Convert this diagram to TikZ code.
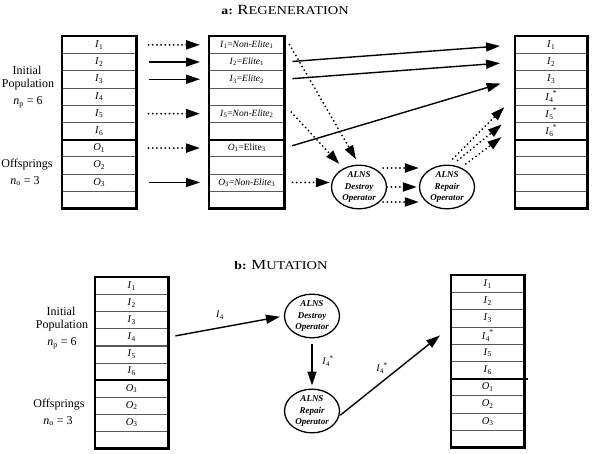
\documentclass[tikz,border=0pt]{standalone}
\usepackage{fontspec}
\setmainfont{Liberation Serif}
\usetikzlibrary{arrows.meta,shapes.geometric}
\newcommand\vI[1]{\textit{I}\textsubscript{#1}}
\newcommand\vIs[1]{\textit{I}\textsubscript{#1}\kern-0.5pt\raisebox{1pt}{\textsuperscript{*}}}
\newcommand\vO[1]{\textit{O}\textsubscript{#1}}
\begin{document}
\begin{tikzpicture}[x=1pt,y=-1pt,
  cell/.style={draw=black!65, line width=0.5pt, minimum width=#1, minimum height=17.2pt,
    inner sep=0pt, anchor=north west, font=\fontsize{10.5}{11}\selectfont},
  cell/.default=74pt,
  mcell/.style={cell=75pt, font=\fontsize{9.5}{10}\selectfont},
  frame/.style={line width=2.4pt},
  ell/.style={ellipse, draw, line width=1.3pt, minimum width=55pt, minimum height=43pt,
    inner sep=0pt, align=center, font=\fontsize{9}{11.5}\selectfont\bfseries\itshape},
  sarr/.style={line width=1.4pt, -{Triangle[length=14pt,width=9pt]}},
  darr/.style={line width=2pt, line cap=round, dash pattern=on 0pt off 4.2pt,
    -{Triangle[length=14pt,width=9pt]}},
  lab/.style={font=\fontsize{12}{13}\selectfont, inner sep=0pt},
  elab/.style={font=\fontsize{10}{11}\selectfont, inner sep=0pt},
  ttl/.style={inner sep=0pt}]
\useasboundingbox (0,0) rectangle (592,453);

% ---------- a: Regeneration ----------
\node[ttl] (ta) at (285,10) {\scalebox{1.2}[1]{\fontsize{11.5}{12}\selectfont\textbf{a:} \fontsize{14}{14}\selectfont R\fontsize{12}{12}\selectfont EGENERATION}};

\foreach \t [count=\i] in {{\vI{1}},{\vI{2}},{\vI{3}},{\vI{4}},{\vI{5}},{\vI{6}},{\vO{1}},{\vO{2}},{\vO{3}},{}}
  \node[cell] (L\i) at (62,{36+(\i-1)*17.2}) {\t};
\draw[frame] (L1.north west) rectangle (L10.south east);
\draw[frame] (L6.south west) -- (L6.south east);

\foreach \t [count=\i] in {{\vI{1}=\textit{Non-Elite}\textsubscript{1}},{\vI{2}=\textit{Elite}\textsubscript{1}},{\vI{3}=\textit{Elite}\textsubscript{2}},{},{\vI{5}=\textit{Non-Elite}\textsubscript{2}},{},{\vO{1}=Elite\textsubscript{3}},{},{\vO{3}=\textit{Non-Elite}\textsubscript{3}},{}}
  \node[mcell] (M\i) at (209,{36+(\i-1)*17.2}) {\t};
\draw[frame] (M1.north west) rectangle (M10.south east);
\draw[frame] (M6.south west) -- (M6.south east);

\foreach \t [count=\i] in {{\vI{1}},{\vI{2}},{\vI{3}},{\vIs{4}},{\vIs{5}},{\vIs{6}},{},{},{},{}}
  \node[cell=72pt] (R\i) at (515,{36+(\i-1)*17.2}) {\t};
\draw[frame] (R1.north west) rectangle (R10.south east);
\draw[frame] (R6.south west) -- (R6.south east);

\node[lab] (ip) at (27,70) {Initial};
\node[lab] (pp) at (28,85) {Population};
\node[lab] (np) at (28,102) {\textit{n}\textsubscript{p} = 6};
\node[lab] (of) at (27,165) {Offsprings};
\node[lab] (no) at (25,181) {\textit{n}\textsubscript{o} = 3};

\node[ell] (D) at (359,187) {ALNS\\Destroy\\Operator};
\node[ell] (RP) at (447,187) {ALNS\\Repair\\Operator};

% left -> middle
\draw[darr, shorten <=12pt, shorten >=9pt] (L1.east) -- (M1.west);
\draw[sarr, shorten <=12pt, shorten >=9pt] (L2.east) -- (M2.west);
\draw[sarr, shorten <=12pt, shorten >=9pt] (L3.east) -- (M3.west);
\draw[darr, shorten <=12pt, shorten >=9pt] (L5.east) -- (M5.west);
\draw[darr, shorten <=12pt, shorten >=9pt] (L7.east) -- (M7.west);
\draw[sarr, shorten <=12pt, shorten >=9pt] (L9.east) -- (M9.west);

% middle -> right
\draw[sarr, shorten <=8pt, shorten >=15pt] (M2.east) -- (R1.west);
\draw[sarr, shorten <=8pt, shorten >=15pt] (M3.east) -- (R2.west);
\draw[sarr, shorten <=8pt, shorten >=15pt] (M7.east) -- (R3.west);

% middle -> destroy
\draw[darr, shorten <=10pt, shorten >=6pt] (M1.north east) -- (D.north);
\draw[darr, shorten <=10pt, shorten >=6pt] (M5.north east) -- (D.130);
\draw[darr, shorten <=8pt, shorten >=1pt] (M9.east) -- (M9.east -| D.west);

% destroy -> repair
\draw[darr, shorten <=-4pt] ([yshift=19pt]D.east) -- ([yshift=19pt]RP.west);
\draw[darr, shorten >=2pt] (D.east) -- (RP.west);
\draw[darr, shorten <=-4pt] ([yshift=-15pt]D.east) -- ([yshift=-15pt]RP.west);

% repair -> right
\draw[darr, shorten <=8pt, shorten >=15pt] (RP.north) -- (R4.west);
\draw[darr, shorten <=7pt, shorten >=17pt] (RP.77) -- (R5.west);
\draw[darr, shorten <=6pt, shorten >=17pt] (RP.54) -- ([yshift=4pt]R6.west);

% ---------- b: Mutation ----------
\node[ttl] (tb) at (281,265) {\scalebox{1.2}[1]{\fontsize{11.5}{12}\selectfont\textbf{b:} \fontsize{14}{14}\selectfont M\fontsize{12}{12}\selectfont UTATION}};

\foreach \t [count=\i] in {{\vI{1}},{\vI{2}},{\vI{3}},{\vI{4}},{\vI{5}},{\vI{6}},{\vO{1}},{\vO{2}},{\vO{3}},{}}
  \node[cell=73pt] (ML\i) at (95,{277+(\i-1)*17.1}) {\t};
\draw[frame] (ML1.north west) rectangle (ML10.south east);
\draw[frame] (ML6.south west) -- (ML6.south east);

\foreach \t [count=\i] in {{\vI{1}},{\vI{2}},{\vI{3}},{\vIs{4}},{\vI{5}},{\vI{6}},{\vO{1}},{\vO{2}},{\vO{3}},{}}
  \node[cell=73pt] (MR\i) at (451,{275+(\i-1)*17.2}) {\t};
\draw[frame] (MR1.north west) rectangle (MR10.south east);
\draw[frame] (MR6.south west) -- ([xshift=3pt]MR6.south east);

\node[lab] (ip2) at (61,311) {Initial};
\node[lab] (pp2) at (62,326) {Population};
\node[lab] (np2) at (62,343) {\textit{n}\textsubscript{p} = 6};
\node[lab] (of2) at (59,405) {Offsprings};
\node[lab] (no2) at (58,421) {\textit{n}\textsubscript{o} = 3};

\node[ell] (D2) at (312,316) {ALNS\\Destroy\\Operator};
\node[ell] (RP2) at (312,411) {ALNS\\Repair\\Operator};

\draw[sarr, shorten <=7pt, shorten >=4pt] (ML4.east) -- (D2.west);
\node[elab] (e1) at (220,315) {\vI{4}};
\draw[sarr, shorten <=6pt, shorten >=3pt] (D2.south) -- (RP2.north);
\node[elab] (e2) at (328,361) {\vIs{4}};
\draw[sarr, shorten <=1pt, shorten >=14pt] (RP2.-10) -- (MR4.north west);
\node[elab] (e3) at (382,368) {\vIs{4}};
\end{tikzpicture}
\end{document}
